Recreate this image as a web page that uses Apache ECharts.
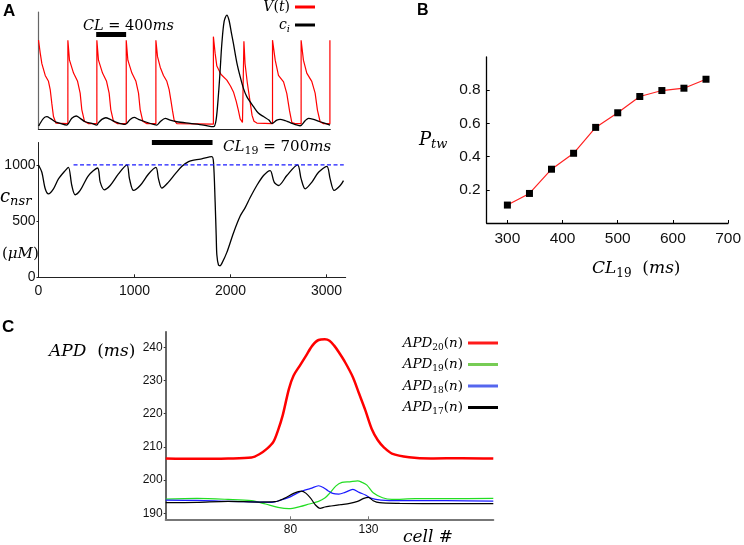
<!DOCTYPE html>
<html><head><meta charset="utf-8">
<script src="https://cdn.jsdelivr.net/npm/echarts@6/dist/echarts.min.js"></script>
<style>html,body{margin:0;padding:0;background:#fff}#c{width:744px;height:545px}</style>
</head><body><div id="c"></div><script>
// ---------- Panel A (top): membrane voltage V(t) and c_i (arbitrary units, time in ms)
var vData = [[0,76],[18,65],[35,56],[70,46],[104,41],[122,34],[139,22],[156,11],[181,5.5],
  [306,5],[306,76],[323,59],[365,48],[407,41],[434,31],[451,17],[479,7],[521,5],
  [608,5],[608,76],[625,59],[667,48],[709,41],[736,31],[753,17],[781,7],[823,5],
  [914,5],[914,76],[931,59],[973,48],[1015,41],[1042,31],[1059,17],[1087,7],[1129,5],
  [1223,5],[1223,76],[1240,62],[1268,53],[1302,46],[1337,41],[1361,34],[1379,25],[1396,16],[1413,8],[1441,5],
  [1822,4.5],[1822,79],[1840,65],[1858,54],[1900,47],[1962,42],[2000,37],[2031,32],[2060,24],[2083,16],[2101,9],[2125,6],
  [2140,5],[2140,75],[2152,56],[2175,40],[2200,26],[2225,12],[2245,7],[2275,5.5],
  [2438,5],[2438,76],[2466,59],[2500,46],[2553,40.5],[2587,30.5],[2615,16],[2639,6],[2674,5],
  [2736,5],[2736,76],[2760,59],[2795,48],[2847,41],[2882,31],[2906,16.5],[2934,6.6],[2969,5],
  [3036,5],[3036,76]];
var ciData = [[0,3],[7,3.8],[52,9.5],[87,10.9],[122,9.5],[174,6.6],[226,5.2],[295,3.8],
  [313,5.2],[347,9.5],[393,11.5],[434,9.5],[486,6.6],[556,5.2],[608,3.8],
  [625,5.8],[660,8.6],[701,10],[747,8.6],[799,6.6],[903,4.4],
  [920,5.2],[955,8.6],[997,10.4],[1042,8.6],[1111,6.6],[1198,4.4],
  [1233,3.8],[1268,6.6],[1320,9.5],[1372,8],[1441,6.6],[1580,5.2],[1719,3.8],[1823,2.4],
  [1850,8],[1875,30],[1892,50],[1910,73],[1934,92],[1962,97.4],[1985,93],[2010,82],[2031,73],[2066,57],[2101,45],[2135,35],
  [2170,28],[2240,19.5],[2290,14],[2344,11],[2400,8],[2431,5.2],[2483,8],[2517,8.6],[2570,7.5],[2622,5.8],
  [2726,3.2],[2778,7.5],[2813,9.5],[2865,8.6],[2934,6.6],[3038,3.8]];
var clBar400 = [601, 913];   // ms span of the CL = 400ms scale bar
var clBar400Level = 81;
// ---------- Panel A (bottom): c_nsr (µM) vs time (ms)
var cnsrData = [[0,1000],[35,935],[70,788],[104,743],[156,788],[208,876],[278,950],[312,979],
  [347,817],[382,735],[434,773],[521,906],[615,973],[643,847],[684,779],[747,817],[833,920],
  [921,1000],[948,876],[990,773],[1059,817],[1146,920],[1223,979],[1250,876],[1285,794],
  [1354,847],[1424,920],[1494,988],[1563,1030],[1632,1045],[1700,1055],[1806,1074],[1823,1024],
  [1840,670],[1851,375],[1858,198],[1875,109],[1892,103],[1910,124],[1962,222],[2031,395],[2101,545],
  [2153,620],[2205,710],[2274,817],[2344,906],[2413,950],[2455,847],[2500,817],[2587,906],
  [2698,1000],[2736,876],[2778,788],[2848,847],[2917,935],[3004,988],[3038,876],[3080,773],
  [3143,817],[3177,861]];
var cnsrRef = [[365,1000],[3180,1000]];
var clBar700 = [1181, 1813];
var clBar700Level = 1200;
var cnsrTicks = [0, 500, 1000];
var timeTicks = [0, 1000, 2000, 3000];
// ---------- Panel B: P_tw vs CL_19
var clValues = [300,340,380,420,460,500,540,580,620,660];
var ptwValues = [0.108,0.178,0.324,0.42,0.576,0.664,0.762,0.798,0.812,0.866];
var clTicks = [300,400,500,600,700];
var ptwTicks = [0.2,0.4,0.6,0.8];
// ---------- Panel C: APD (ms) vs cell #
var apd20 = [[0,206.5],[20,206.4],[40,206.5],[55,206.8],[60,207.8],[65,209.5],[69,211.5],[72,215],[75,219.5],
  [79,227.5],[82,231.5],[86,234.5],[90,237.5],[94,240.5],[98,242.2],[102,242.4],[105,242],[108,240.5],
  [111,238.5],[115,235.5],[120,231],[124,226],[128,221],[132,215.5],[136,212],[140,209.8],[145,208],
  [156,206.9],[170,206.5],[190,206.6],[210,206.5]];
var apd19 = [[0,194.3],[20,194.5],[40,194.2],[55,193.8],[64,192.8],[72,191.8],[79,191.4],[86,192],[92,192.8],
  [98,193.6],[102,194.6],[105,196],[109,198.2],[113,199.3],[118,199.5],[123,199.8],[126,199.3],[129,198.5],
  [133,196.2],[139,194.7],[145,194.2],[160,194.4],[180,194.4],[210,194.5]];
var apd18 = [[0,194],[20,193.9],[40,193.6],[60,193.4],[68,193.3],[74,194],[79,194.8],[84,196],[88,196.8],
  [93,197.5],[98,198.3],[101,197.8],[104,196.8],[107,196],[111,195.8],[115,196.3],[120,197.2],[124,196.3],
  [128,195.5],[132,194.5],[138,194],[150,193.8],[180,193.8],[210,193.7]];
var apd17 = [[0,193.2],[20,193.3],[40,193.6],[60,193.4],[70,193.5],[76,194.5],[82,196],[87,196.7],[90,196],
  [93,194.5],[96,192.5],[99,191.5],[102,191.9],[106,192.2],[112,192.6],[118,193],[123,193.6],[127,194.5],
  [130,194.8],[133,193.8],[137,193.2],[150,193],[180,192.9],[210,192.9]];
var cellTicks = [80, 130];
var apdTicks = [190,200,210,220,230,240];

// ---------- styles
var SANS = "'Liberation Sans', Arial, sans-serif";
var SERIF = "'DejaVu Serif', serif";
function plain(v){ return String(v); }
function mathRich(size){
  var lh = Math.round(size*1.3);
  var ss = Math.round(size*0.7);
  return {
    i:{fontFamily:SERIF,fontStyle:'italic',fontSize:size,lineHeight:lh,color:'#000'},
    n:{fontFamily:SERIF,fontSize:size,lineHeight:lh,color:'#000'},
    sn:{fontFamily:SERIF,fontSize:ss,lineHeight:ss+2,verticalAlign:'bottom',color:'#000'},
    si:{fontFamily:SERIF,fontStyle:'italic',fontSize:ss,lineHeight:ss+2,verticalAlign:'bottom',color:'#000'}
  };
}
function mtext(x,y,text,size){
  return {type:'text',x:x,y:y,silent:true,
    style:{text:text,rich:mathRich(size),align:'left',verticalAlign:'middle'}};
}
function letter(x,y,t,size){
  return {type:'text',x:x,y:y,silent:true,
    style:{text:t,fontFamily:SANS,fontWeight:'bold',fontSize:size,fill:'#000',align:'left',verticalAlign:'middle'}};
}

var legendNames = {
  'V(t)':'{i|V}{n|(}{i|t}{n|)}',
  'c_i':'{i|c}{si|i}',
  'APD20':'{i|APD}{sn|20}{n|(}{i|n}{n|)}',
  'APD19':'{i|APD}{sn|19}{n|(}{i|n}{n|)}',
  'APD18':'{i|APD}{sn|18}{n|(}{i|n}{n|)}',
  'APD17':'{i|APD}{sn|17}{n|(}{i|n}{n|)}'
};

var chart = echarts.init(document.getElementById('c'), null, {renderer:'canvas'});
var option = {
  animation:false,
  backgroundColor:'#fff',
  grid:[
    {left:38.5, top:12, width:291.8, height:117.5},
    {left:38.5, top:142.5, width:307.2, height:134.8},
    {left:486.7, top:57, width:245, height:166},
    {left:165.7, top:331.7, width:327.6, height:187.6}
  ],
  xAxis:[
    {gridIndex:0,type:'value',min:0,max:3040,axisLine:{lineStyle:{color:'#222',width:1.2}},
     axisTick:{show:false},axisLabel:{show:false},splitLine:{show:false}},
    {gridIndex:1,type:'value',min:0,max:3200,axisLine:{lineStyle:{color:'#222',width:1}},
     axisTick:{show:true,inside:true,length:3,customValues:timeTicks,lineStyle:{color:'#222'}},
     axisLabel:{customValues:timeTicks,formatter:plain,fontFamily:SANS,fontSize:14,color:'#111',margin:7},splitLine:{show:false}},
    {gridIndex:2,type:'value',min:262.5,max:700,axisLine:{lineStyle:{color:'#000',width:1.3}},
     axisTick:{show:true,inside:true,length:3,customValues:clTicks,lineStyle:{color:'#000'}},
     axisLabel:{customValues:clTicks,formatter:plain,fontFamily:SANS,fontSize:15.5,color:'#111',margin:8},splitLine:{show:false}},
    {gridIndex:3,type:'value',min:0,max:210,axisLine:{lineStyle:{color:'#777',width:2}},
     axisTick:{show:true,inside:true,length:3,customValues:cellTicks,lineStyle:{color:'#777'}},
     axisLabel:{customValues:cellTicks,formatter:plain,fontFamily:SANS,fontSize:12,color:'#111',margin:4},splitLine:{show:false}}
  ],
  yAxis:[
    {gridIndex:0,type:'value',min:0,max:100,axisLine:{show:true,lineStyle:{color:'#666',width:1.2}},
     axisTick:{show:false},axisLabel:{show:false},splitLine:{show:false}},
    {gridIndex:1,type:'value',min:0,max:1200,axisLine:{show:true,lineStyle:{color:'#222',width:1}},
     axisTick:{show:true,length:2,customValues:cnsrTicks,lineStyle:{color:'#222'}},
     axisLabel:{customValues:cnsrTicks,formatter:plain,fontFamily:SANS,fontSize:14,color:'#111',margin:3},splitLine:{show:false}},
    {gridIndex:2,type:'value',min:0,max:1,axisLine:{show:true,lineStyle:{color:'#000',width:1.3}},
     axisTick:{show:true,inside:true,length:3,customValues:ptwTicks,lineStyle:{color:'#000'}},
     axisLabel:{customValues:ptwTicks,formatter:plain,fontFamily:SANS,fontSize:15.5,color:'#111',margin:6},splitLine:{show:false}},
    {gridIndex:3,type:'value',min:188.2,max:244.7,axisLine:{show:true,lineStyle:{color:'#333',width:1.5}},
     axisTick:{show:true,length:2,customValues:apdTicks,lineStyle:{color:'#333'}},
     axisLabel:{customValues:apdTicks,formatter:plain,fontFamily:SANS,fontSize:12,color:'#111',margin:3},splitLine:{show:false}}
  ],
  legend:[
    {orient:'vertical',align:'right',right:429,top:0,padding:0,itemWidth:20,itemHeight:3,itemGap:4,icon:'rect',
     data:['V(t)','c_i'],selectedMode:false,
     formatter:function(n){return legendNames[n];},textStyle:{rich:mathRich(14)}},
    {orient:'vertical',align:'right',right:246,top:336,padding:0,itemWidth:30,itemHeight:3,itemGap:5.5,icon:'rect',
     data:['APD20','APD19','APD18','APD17'],selectedMode:false,
     formatter:function(n){return legendNames[n];},textStyle:{rich:mathRich(13.5)}}
  ],
  series:[
    {name:'V(t)',type:'line',xAxisIndex:0,yAxisIndex:0,data:vData,showSymbol:false,clip:false,
     lineStyle:{color:'#ff0000',width:1.2},itemStyle:{color:'#ff0000'},
     markLine:{silent:true,symbol:'none',label:{show:false},
       lineStyle:{color:'#000',width:5,type:'solid'},
       data:[[{coord:[clBar400[0],clBar400Level]},{coord:[clBar400[1],clBar400Level]}]]}},
    {name:'c_i',type:'line',xAxisIndex:0,yAxisIndex:0,data:ciData,showSymbol:false,smooth:0.3,
     lineStyle:{color:'#000',width:1.3},itemStyle:{color:'#000'}},
    {name:'cnsr',type:'line',xAxisIndex:1,yAxisIndex:1,data:cnsrData,showSymbol:false,smooth:0.3,clip:false,
     lineStyle:{color:'#000',width:1.3},itemStyle:{color:'#000'},
     markLine:{silent:true,symbol:'none',label:{show:false},
       lineStyle:{color:'#000',width:5,type:'solid'},
       data:[[{coord:[clBar700[0],clBar700Level]},{coord:[clBar700[1],clBar700Level]}]]}},
    {name:'ref',type:'line',xAxisIndex:1,yAxisIndex:1,data:cnsrRef,showSymbol:false,
     lineStyle:{color:'#1a1aff',width:1.3,type:[4,2.5]}},
    {name:'Ptw',type:'line',xAxisIndex:2,yAxisIndex:2,data:clValues.map(function(c,i){return [c,ptwValues[i]];}),
     symbol:'rect',symbolSize:7,showSymbol:true,
     lineStyle:{color:'#ff2222',width:1.2},itemStyle:{color:'#000'}},
    {name:'APD20',type:'line',xAxisIndex:3,yAxisIndex:3,data:apd20,showSymbol:false,smooth:0.3,
     lineStyle:{color:'#ff0000',width:2.5},itemStyle:{color:'#ff1a1a'}},
    {name:'APD19',type:'line',xAxisIndex:3,yAxisIndex:3,data:apd19,showSymbol:false,smooth:0.3,
     lineStyle:{color:'#22dd22',width:1.2},itemStyle:{color:'#77cc55'}},
    {name:'APD18',type:'line',xAxisIndex:3,yAxisIndex:3,data:apd18,showSymbol:false,smooth:0.3,
     lineStyle:{color:'#1a1aff',width:1.2},itemStyle:{color:'#5566ee'}},
    {name:'APD17',type:'line',xAxisIndex:3,yAxisIndex:3,data:apd17,showSymbol:false,smooth:0.3,
     lineStyle:{color:'#000',width:1.2},itemStyle:{color:'#000'}}
  ],
  graphic:[
    letter(3,11,'A',17),
    letter(417,10.5,'B',16),
    letter(2,327,'C',17),
    mtext(83,26,'{i|CL}{n| = 400}{i|ms}',14.5),
    mtext(223,147,'{i|CL}{sn|19}{n| = 700}{i|ms}',15),
    mtext(0,197,'{i|c}{si|nsr}',18),
    mtext(2,254,'{n|(}{i|μM}{n|)}',15),
    mtext(419,140,'{i|P}{si|tw}',18),
    mtext(592,269,'{i|CL}{sn|19}{n|  (}{i|ms}{n|)}',17),
    mtext(49,352,'{i|APD}{n|  (}{i|ms}{n|)}',17),
    mtext(403,538,'{i|cell #}',17)
  ]
};
chart.setOption(option);
</script></body></html>
